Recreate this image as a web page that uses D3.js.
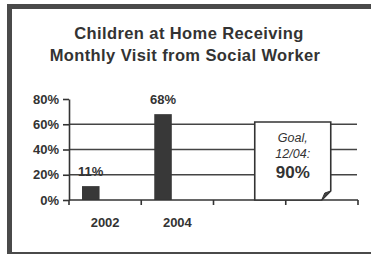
<!DOCTYPE html>
<html>
<head>
<meta charset="utf-8">
<script src="https://cdn.jsdelivr.net/npm/d3@7"></script>
<style>
  body { margin: 0; background: #fff; }
  text { font-family: "Liberation Sans", Arial, sans-serif; fill: #333; }
</style>
</head>
<body>
<div id="chart"></div>
<script>
var w = 371;
var h = 254;

// data
var years = ["2002", "2004", "", ""];
var actual = [0.11, 0.68, null, null];
var yTicks = [0, 0.2, 0.4, 0.6, 0.8];
var gridVals = [0.2, 0.4, 0.6];
var goalLines = ["Goal,", "12/04:"];
var goalValue = 0.90;

var svg = d3.select("#chart").append("svg").attr("width", w).attr("height", h);

// frame
svg.append("rect")
  .attr("x", 9.5).attr("y", 6.5)
  .attr("width", 400).attr("height", 248)
  .attr("fill", "none")
  .attr("stroke", "#4a4a4a")
  .attr("stroke-width", 5);

// title
var title = svg.append("text")
  .attr("text-anchor", "middle")
  .attr("font-size", 16.5)
  .attr("letter-spacing", 0.4)
  .attr("font-weight", "bold");
title.append("tspan").attr("x", 189).attr("y", 39).text("Children at Home Receiving");
title.append("tspan").attr("x", 185).attr("y", 61).text("Monthly Visit from Social Worker");

var x = d3.scaleBand().domain(d3.range(years.length)).range([69, 358]).padding(0);
var x1 = d3.scaleBand().domain(["actual", "goal"]).range([0, x.bandwidth()])
  .paddingOuter(1.06).align(0.35);
var y = d3.scaleLinear().domain([0, 0.8]).range([200, 99]);

// grid lines
svg.selectAll(".grid").data(gridVals).enter().append("line")
  .attr("x1", 69).attr("x2", 357)
  .attr("y1", function(d) { return y(d); })
  .attr("y2", function(d) { return y(d); })
  .attr("stroke", "#444").attr("stroke-width", 1.6);

// y axis
var yAxis = d3.axisLeft(y).tickValues(yTicks).tickFormat(d3.format(".0%"))
  .tickSize(6).tickSizeOuter(0).tickPadding(4);
var gy = svg.append("g").attr("transform", "translate(69,0)").call(yAxis);
gy.select(".domain").attr("stroke", "#333").attr("stroke-width", 1.6);
gy.selectAll(".tick line").attr("stroke", "#333").attr("stroke-width", 1.6);
gy.selectAll(".tick text").attr("font-size", 13).attr("font-weight", "bold")
  .attr("font-family", "Liberation Sans, Arial, sans-serif").attr("fill", "#333");

// bars
svg.selectAll(".bar").data(actual.filter(function(d) { return d != null; })).enter().append("rect")
  .attr("x", function(d, i) { return x(i) + x1("actual"); })
  .attr("y", function(d) { return y(d); })
  .attr("width", x1.bandwidth())
  .attr("height", function(d) { return y(0) - y(d); })
  .attr("fill", "#383838");

// value labels
svg.selectAll(".val").data(actual.filter(function(d) { return d != null; })).enter().append("text")
  .attr("x", function(d, i) { return x(i) + x1("actual") + x1.bandwidth() / 2; })
  .attr("y", function(d) { return y(d) - 10; })
  .attr("text-anchor", "middle")
  .attr("font-size", 13)
  .attr("font-weight", "bold")
  .text(function(d) { return d3.format(".0%")(d); });

// x axis line and edge ticks
svg.append("line").attr("x1", 69).attr("x2", 358).attr("y1", y(0)).attr("y2", y(0))
  .attr("stroke", "#333").attr("stroke-width", 1.6);
var edges = d3.range(years.length).map(function(i) { return x(i); }).concat([x.range()[1]]);
svg.selectAll(".xt").data(edges).enter().append("line")
  .attr("x1", function(d) { return d; }).attr("x2", function(d) { return d; })
  .attr("y1", y(0)).attr("y2", y(0) + 5)
  .attr("stroke", "#333").attr("stroke-width", 1.6);
svg.selectAll(".xl").data(years).enter().append("text")
  .attr("x", function(d, i) { return x(i) + x.bandwidth() / 2; })
  .attr("y", 227)
  .attr("text-anchor", "middle")
  .attr("font-size", 13)
  .attr("font-weight", "bold")
  .text(function(d) { return d; });

// goal note with folded corner
var bx0 = x(3) - 31, bx1 = x(3) + 45, by0 = 122, by1 = y(0);
svg.append("path")
  .attr("d", "M" + bx0 + "," + by0 + "H" + bx1 + "V" + (by1 - 9) + "L" + (bx1 - 9) + "," + by1 + "H" + bx0 + "Z")
  .attr("fill", "#fff").attr("stroke", "#333").attr("stroke-width", 1.6);
svg.append("path")
  .attr("d", "M" + (bx1 - 9) + "," + by1 + "L" + (bx1 - 6) + "," + (by1 - 7) + "L" + bx1 + "," + (by1 - 9) + "Q" + (bx1 - 5) + "," + (by1 - 4) + " " + (bx1 - 9) + "," + by1 + "Z")
  .attr("fill", "#444").attr("stroke", "#333").attr("stroke-width", 1);

var gcx = (bx0 + bx1) / 2;
svg.selectAll(".goal").data(goalLines).enter().append("text")
  .attr("x", gcx)
  .attr("y", function(d, i) { return 142 + i * 15.5; })
  .attr("text-anchor", "middle")
  .attr("font-size", 12.5)
  .attr("font-style", "italic")
  .attr("fill", "#444")
  .text(function(d) { return d; });
svg.append("text")
  .attr("x", gcx).attr("y", 178)
  .attr("text-anchor", "middle")
  .attr("font-size", 17)
  .attr("font-weight", "bold")
  .text(d3.format(".0%")(goalValue));
</script>
</body>
</html>
